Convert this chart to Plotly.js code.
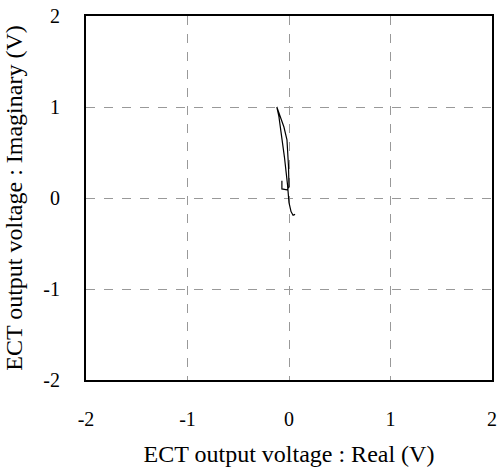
<!DOCTYPE html>
<html><head><meta charset="utf-8">
<script src="https://cdn.plot.ly/plotly-3.0.1.min.js"></script>
<style>body{margin:0;background:#fff}#c{width:504px;height:470px}</style>
</head><body><div id="c"></div>
<script>
const realV = [-0.07, -0.07, -0.02, 0.0, -0.005, -0.02, -0.05, -0.12, -0.10, -0.08, -0.045, -0.015, 0.0, 0.02, 0.04, 0.06];
const imagV = [0.19, 0.10, 0.09, 0.12, 0.35, 0.64, 0.78, 1.0, 0.90, 0.75, 0.45, 0.15, -0.05, -0.15, -0.19, -0.18];
const tickVals = [-2, -1, 0, 1, 2];
const fontFam = '"Liberation Serif", "Times New Roman", serif';
Plotly.newPlot('c', [{
  x: realV, y: imagV, mode: 'lines', type: 'scatter',
  line: {color: '#000', width: 1.2}, hoverinfo: 'none'
}], {
  width: 504, height: 470,
  margin: {l: 86, r: 12, t: 16, b: 90},
  paper_bgcolor: '#fff', plot_bgcolor: '#fff',
  showlegend: false,
  font: {family: fontFam, color: '#000', size: 20},
  xaxis: {
    range: [-2, 2], tickvals: tickVals, ticktext: tickVals.map(String),
    showgrid: true, gridcolor: '#999', griddash: 'dash', gridwidth: 1,
    zeroline: false, showline: true, mirror: true, linecolor: '#000', linewidth: 2,
    ticks: '', ticklabelstandoff: 20,
    title: {text: 'ECT output voltage : Real (V)', font: {size: 24, family: fontFam}, standoff: 16}
  },
  yaxis: {
    range: [-2, 2], tickvals: tickVals, ticktext: tickVals.map(String),
    showgrid: true, gridcolor: '#999', griddash: 'dash', gridwidth: 1,
    zeroline: false, showline: true, mirror: true, linecolor: '#000', linewidth: 2,
    ticks: '', ticklabelstandoff: 20,
    title: {text: 'ECT output voltage : Imaginary (V)', font: {size: 24, family: fontFam}, standoff: 14}
  }
}, {staticPlot: true});
</script></body></html>
